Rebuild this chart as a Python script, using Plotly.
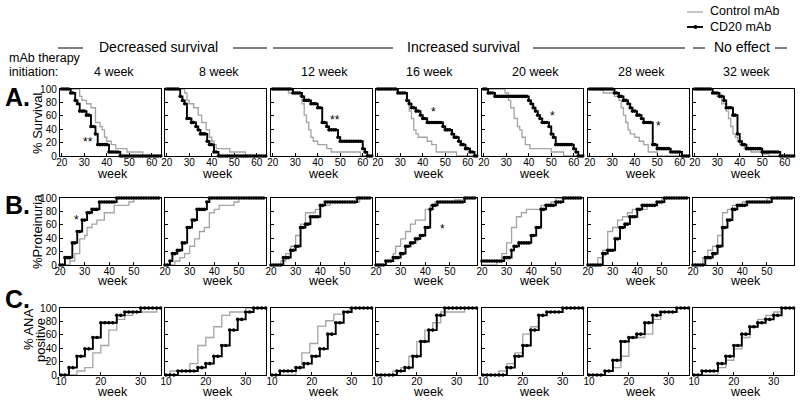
import plotly.graph_objects as go

FONT = "Liberation Sans, Arial, Helvetica, sans-serif"
W, H = 800, 400

# ---------------- data ----------------
weeks_a = list(range(20, 65))
weeks_b = list(range(20, 61))
weeks_c = list(range(10, 36))

groups = ["4 week", "8 week", "12 week", "16 week", "20 week", "28 week", "32 week"]

# Row A: % survival, CD20 mAb (weekly)
a1_cd20 = [100,100,100,100,94,94,83,78,67,67,67,61,61,44,44,33,17,17,17,17,17,6,6,6,6,6,
           0,0,0,0,0,0,0,0,0,0,0,0,0,0,0,0,0,0,0]
a2_cd20 = [100,100,100,100,100,100,89,83,78,56,56,50,50,44,39,33,33,33,22,17,17,6,6,
           0,0,0,0,0,0,0,0,0,0,0,0,0,0,0,0,0,0,0,0,0,0]
a3_cd20 = [100,100,100,100,100,100,100,100,100,94,94,94,94,89,83,83,83,78,78,78,72,72,50,50,44,
           39,39,39,39,28,22,22,22,22,22,22,22,22,22,22,11,6,0,0,0]
a4_cd20 = [100,100,100,100,100,100,100,100,100,94,94,94,94,83,78,72,72,67,67,61,56,56,
           50,50,50,50,50,50,50,44,39,39,39,33,28,28,22,17,17,11,11,6,6,0,0]
a5_cd20 = [100,100,94,94,94,89,89,89,89,89,89,89,89,89,89,89,89,89,89,89,83,78,72,67,61,56,
           50,50,50,44,33,28,17,17,17,17,17,17,17,17,11,6,0,0,0]
a6_cd20 = [100,100,100,100,100,100,100,100,100,100,100,94,94,89,89,83,83,78,72,67,67,61,61,56,
           50,50,50,50,17,17,11,11,11,11,11,11,6,6,6,6,6,0,0,0,0]
a7_cd20 = [100,100,100,100,100,100,100,100,94,94,94,89,89,83,72,72,72,61,61,33,22,17,17,
           11,11,11,11,11,11,11,6,6,6,6,6,6,6,6,0,0,0,0,0,0,0]

# Row A: control mAb (step change points)
a1_ctl_x = [19.25, 28, 29, 31, 33, 35, 37, 38, 39, 40, 42, 44, 49, 56, 64.1]
a1_ctl_y = [100, 89, 83, 78, 72, 50, 44, 39, 28, 22, 17, 11, 6, 0, 0]
a2_ctl_x = [19.25, 28, 29, 30, 32, 34, 35.5, 37.5, 39, 40, 41, 42, 48, 55, 64.1]
a2_ctl_y = [100, 94, 83, 78, 72, 61, 50, 39, 28, 22, 17, 11, 6, 0, 0]
a3_ctl_x = [19.25, 27, 32, 33, 34, 35, 36, 37, 38, 40, 44, 46, 59, 64.1]
a3_ctl_y = [100, 94, 89, 78, 61, 50, 39, 28, 22, 17, 11, 6, 0, 0]
a4_ctl_x = [19.25, 28.5, 33, 34, 35, 36, 37, 38, 42, 44, 46, 55, 64.1]
a4_ctl_y = [100, 94, 83, 67, 56, 39, 33, 28, 22, 17, 6, 0, 0]
a5_ctl_x = [19.25, 29.5, 31, 32, 33.5, 35, 36, 37, 38.5, 40.5, 50, 55.5, 64.1]
a5_ctl_y = [100, 94, 83, 72, 56, 44, 39, 28, 17, 11, 6, 0, 0]
a6_ctl_x = [19.25, 26, 31, 33, 34, 35, 36, 37, 38, 40, 42, 44, 46, 50, 64.1]
a6_ctl_y = [100, 94, 89, 83, 72, 61, 50, 39, 33, 28, 22, 17, 6, 0, 0]
a7_ctl_x = [19.25, 28, 30, 32, 34, 35, 36, 37, 38, 39, 40, 42, 45, 50, 53, 64.1]
a7_ctl_y = [100, 94, 89, 78, 67, 56, 44, 33, 28, 22, 17, 11, 6, 3, 0, 0]

# Row B: % proteinuria, CD20 mAb (weekly)
b1_cd20 = [0,0,11,11,11,33,33,50,50,67,67,78,78,83,83,83,94,94,94,94,94,94,94,
           100,100,100,100,100,100,100,100,100,100,100,100,100,100,100,100,100,100]
b2_cd20 = [0,0,6,17,17,22,22,33,33,56,56,67,67,83,83,83,83,94,
           100,100,100,100,100,100,100,100,100,100,100,100,100,100,100,100,100,100,100,100,100,100,100]
b3_cd20 = [0,0,0,0,0,11,11,11,22,22,28,28,56,56,61,61,72,72,72,72,89,89,
           94,94,94,94,94,94,94,94,94,94,94,94,94,100,100,100,100,100,100]
b4_cd20 = [0,0,0,0,6,6,6,11,11,11,17,17,28,28,33,33,39,39,44,44,56,56,83,89,89,
           94,94,94,94,94,94,94,94,94,94,94,100,100,100,100,100]
b5_cd20 = [6,6,6,6,6,6,6,6,6,11,11,11,22,28,28,33,33,33,33,33,44,44,56,56,83,83,
           89,89,89,89,94,94,94,100,100,100,100,100,100,100,100]
b6_cd20 = [0,0,0,0,0,0,17,17,22,22,22,39,39,56,56,61,61,72,72,72,83,83,
           89,89,89,89,89,89,94,94,94,100,100,100,100,100,100,100,100,100,100]
b7_cd20 = [0,0,0,0,0,11,11,11,17,17,28,28,56,56,67,67,83,83,89,89,89,89,
           94,94,94,94,94,94,94,94,94,94,100,100,100,100,100,100,100,100,100]

# Row B: control mAb (step change points)
b1_ctl_x = [20, 24, 26, 28, 30, 31, 33, 35, 38, 42, 48, 50, 61]
b1_ctl_y = [0, 6, 17, 39, 44, 56, 61, 67, 78, 89, 94, 100, 100]
b2_ctl_x = [20, 24, 26, 28, 30, 32, 34, 36, 38, 40, 42, 48, 50, 61]
b2_ctl_y = [0, 6, 11, 17, 28, 39, 50, 56, 78, 83, 89, 94, 100, 100]
b3_ctl_x = [20, 24, 26, 28, 30, 32, 34, 38, 40, 44, 56, 61]
b3_ctl_y = [0, 6, 17, 28, 44, 61, 78, 83, 89, 94, 100, 100]
b4_ctl_x = [20, 24, 27, 28, 30, 32, 34, 36, 40, 42, 44, 52, 56, 61]
b4_ctl_y = [0, 6, 17, 28, 39, 50, 61, 67, 83, 89, 94, 97, 100, 100]
b5_ctl_x = [20, 26, 28, 30, 32, 34, 36, 38, 44, 48, 50, 61]
b5_ctl_y = [0, 6, 17, 33, 56, 72, 78, 83, 89, 94, 100, 100]
b6_ctl_x = [20, 24, 26, 28, 30, 32, 34, 36, 38, 44, 48, 50, 61]
b6_ctl_y = [0, 11, 22, 50, 56, 67, 72, 78, 83, 89, 94, 100, 100]
b7_ctl_x = [20, 24, 26, 28, 30, 32, 34, 36, 40, 50, 61]
b7_ctl_y = [0, 11, 22, 28, 44, 78, 83, 89, 94, 100, 100]

# Row C: % ANA positive, CD20 mAb (weekly)
c1_cd20 = [0,0,11,11,28,28,39,39,56,56,78,78,78,78,89,89,94,94,94,94,100,100,100,100,100,100]
c2_cd20 = [0,0,0,6,6,6,6,6,11,11,17,17,28,28,44,44,67,67,83,83,94,94,100,100,100,100]
c3_cd20 = [0,0,6,6,6,6,11,11,17,17,28,28,39,39,61,61,78,78,94,94,100,100,100,100,100,100]
c4_cd20 = [0,0,0,0,0,6,6,11,11,28,28,50,50,67,67,89,89,100,100,100,100,100,100,100,100,100]
c5_cd20 = [0,0,0,0,0,0,11,11,28,28,44,44,67,67,89,89,94,94,94,94,100,100,100,100,100,100]
c6_cd20 = [0,0,0,0,6,6,22,22,50,50,56,56,61,61,78,78,89,89,94,94,94,94,100,100,100,100]
c7_cd20 = [0,0,6,6,6,6,17,17,28,28,44,44,61,61,72,72,78,78,83,83,89,89,100,100,100,100]

# Row C: control mAb (step change points)
c1_ctl_x = [9.75, 14, 16, 18, 20, 22, 24, 26, 28, 34, 35.1]
c1_ctl_y = [0, 6, 11, 33, 44, 67, 83, 89, 94, 100, 100]
c2_ctl_x = [9.75, 11, 16, 18, 20, 22, 24, 26, 30, 35.1]
c2_ctl_y = [0, 6, 17, 44, 56, 72, 89, 94, 100, 100]
c3_ctl_x = [9.75, 16, 17.5, 19.5, 21.5, 23.5, 25.5, 28, 29.5, 35.1]
c3_ctl_y = [0, 11, 33, 47, 73, 81, 91, 94, 100, 100]
c4_ctl_x = [9.75, 14, 16, 18, 20, 22, 24, 26, 32, 35.1]
c4_ctl_y = [0, 6, 11, 28, 50, 67, 78, 94, 100, 100]
c5_ctl_x = [9.75, 14, 16, 18, 20, 22, 24, 26, 30, 35.1]
c5_ctl_y = [0, 6, 17, 33, 61, 72, 89, 94, 100, 100]
c6_ctl_x = [9.75, 14, 16, 18, 20, 22, 24, 26, 28, 32, 35.1]
c6_ctl_y = [0, 6, 11, 28, 56, 56, 61, 83, 94, 100, 100]
c7_ctl_x = [9.75, 16, 18, 20, 22, 24, 26, 28, 30, 32, 35.1]
c7_ctl_y = [0, 11, 22, 39, 56, 72, 83, 89, 94, 100, 100]

y_ticks = [0, 20, 40, 60, 80, 100]
x_ticks_a = [20, 30, 40, 50, 60]
x_ticks_b = [20, 30, 40, 50]
x_ticks_c = [10, 20, 30]

# ---------------- layout helpers ----------------
def px(x):
    return x / W

def py(y):
    return 1 - y / H

lefts = [60, 165, 271, 376, 482, 588, 693]
PW = 101

rows = [
    dict(weeks=weeks_a,
         cd20=[a1_cd20, a2_cd20, a3_cd20, a4_cd20, a5_cd20, a6_cd20, a7_cd20],
         cx=[a1_ctl_x, a2_ctl_x, a3_ctl_x, a4_ctl_x, a5_ctl_x, a6_ctl_x, a7_ctl_x],
         cy=[a1_ctl_y, a2_ctl_y, a3_ctl_y, a4_ctl_y, a5_ctl_y, a6_ctl_y, a7_ctl_y],
         xr=[19.25, 64.1], xt=x_ticks_a, top=89, bot=156, week_y=174),
    dict(weeks=weeks_b,
         cd20=[b1_cd20, b2_cd20, b3_cd20, b4_cd20, b5_cd20, b6_cd20, b7_cd20],
         cx=[b1_ctl_x, b2_ctl_x, b3_ctl_x, b4_ctl_x, b5_ctl_x, b6_ctl_x, b7_ctl_x],
         cy=[b1_ctl_y, b2_ctl_y, b3_ctl_y, b4_ctl_y, b5_ctl_y, b6_ctl_y, b7_ctl_y],
         xr=[20, 61], xt=x_ticks_b, top=198, bot=265, week_y=281),
    dict(weeks=weeks_c,
         cd20=[c1_cd20, c2_cd20, c3_cd20, c4_cd20, c5_cd20, c6_cd20, c7_cd20],
         cx=[c1_ctl_x, c2_ctl_x, c3_ctl_x, c4_ctl_x, c5_ctl_x, c6_ctl_x, c7_ctl_x],
         cy=[c1_ctl_y, c2_ctl_y, c3_ctl_y, c4_ctl_y, c5_ctl_y, c6_ctl_y, c7_ctl_y],
         xr=[9.75, 35.1], xt=x_ticks_c, top=308, bot=375, week_y=392),
]

for row in rows:
    for s in row["cd20"]:
        assert len(s) == len(row["weeks"]), (len(s), len(row["weeks"]))

fig = go.Figure()
layout = {}
annotations = []
shapes = []

k = 0
for r, row in enumerate(rows):
    for c in range(7):
        k += 1
        xa = "x" if k == 1 else f"x{k}"
        ya = "y" if k == 1 else f"y{k}"
        fig.add_trace(go.Scatter(
            x=row["cx"][c], y=row["cy"][c], mode="lines",
            line=dict(color="#a4a4a4", width=1.3, shape="hv"),
            xaxis=xa, yaxis=ya, showlegend=False, hoverinfo="skip", cliponaxis=False))
        fig.add_trace(go.Scatter(
            x=row["weeks"], y=row["cd20"][c], mode="lines+markers",
            line=dict(color="black", width=1.9, shape="hv"),
            marker=dict(size=3.6, color="black"),
            xaxis=xa, yaxis=ya, showlegend=False, hoverinfo="skip", cliponaxis=False))
        axis_common = dict(showline=True, mirror=True, linecolor="black", linewidth=1.4,
                           showgrid=False, zeroline=False, ticks="inside", ticklen=3,
                           tickcolor="black", tickwidth=1,
                           tickfont=dict(family=FONT, size=10, color="black"))
        layout["xaxis" if k == 1 else f"xaxis{k}"] = dict(
            axis_common, domain=[px(lefts[c]), px(lefts[c] + PW)], anchor=ya,
            range=row["xr"], tickmode="array", tickvals=row["xt"], ticklabelstandoff=-3)
        layout["yaxis" if k == 1 else f"yaxis{k}"] = dict(
            axis_common, domain=[py(row["bot"]), py(row["top"])], anchor=xa,
            range=[0, 100], tickmode="array", tickvals=y_ticks,
            showticklabels=(c == 0), ticklabelstandoff=0)
        annotations.append(dict(text="week", x=px(lefts[c] + PW / 2 + 2), y=py(row["week_y"]),
                                xref="paper", yref="paper", showarrow=False,
                                font=dict(family=FONT, size=12.5, color="black"),
                                xanchor="center", yanchor="middle"))

def txt(s, x, y, size=13, xanchor="center", angle=0, bold=False):
    annotations.append(dict(text=(f"<b>{s}</b>" if bold else s), x=px(x), y=py(y),
                            xref="paper", yref="paper", showarrow=False, textangle=angle,
                            font=dict(family=FONT, size=size, color="black"),
                            xanchor=xanchor, yanchor="middle"))

def hline(x0, x1, y, color="black", width=1):
    shapes.append(dict(type="line", xref="paper", yref="paper", x0=px(x0), x1=px(x1),
                       y0=py(y), y1=py(y), line=dict(color=color, width=width)))

# header
txt("Decreased survival", 158, 47, size=14)
txt("Increased survival", 464, 47, size=14)
txt("No effect", 742, 47, size=14)
hline(58, 83, 48)
hline(233, 267, 48)
hline(273, 393, 48)
hline(533, 685, 48)
hline(693, 705, 48)
hline(775, 787, 48)

txt("mAb therapy", 7, 58, size=12.5, xanchor="left")
txt("initiation:", 7, 72, size=12.5, xanchor="left")
for c, g in enumerate(groups):
    txt(g, lefts[c] + PW / 2 + 3, 72, size=12.5)

# legend
hline(687, 703, 12, color="#a4a4a4", width=1.3)
txt("Control mAb", 708, 11, size=12.5, xanchor="left")
hline(687, 703, 27, color="black", width=1.9)
shapes.append(dict(type="circle", xref="paper", yref="paper", x0=px(693.5), x1=px(697.5),
                   y0=py(29), y1=py(25), fillcolor="black", line=dict(color="black", width=0)))
txt("CD20 mAb", 708, 27, size=12.5, xanchor="left")

# row labels
txt("A.", 17, 97, size=25, bold=True)
txt("B.", 17, 205, size=25, bold=True)
txt("C.", 17, 299, size=25, bold=True)
txt("% Survival", 37, 123, size=13, angle=-90)
txt("%Proteinuria", 38, 232, size=13, angle=-90)
txt("% ANA", 28, 329, size=13, angle=-90)
txt("positive", 40, 340, size=13, angle=-90)

# significance marks
txt("**", 88, 142, size=12)
txt("**", 335, 120, size=12)
txt("*", 433, 112, size=12)
txt("*", 552, 116, size=12)
txt("*", 658, 126, size=12)
txt("*", 76, 220, size=12)
txt("*", 442, 229, size=12)

fig.update_layout(**layout)
fig.update_layout(width=W, height=H, margin=dict(l=0, r=0, t=0, b=0), autosize=False,
                  template="none", paper_bgcolor="white", plot_bgcolor="white",
                  font=dict(family=FONT, color="black"),
                  annotations=annotations, shapes=shapes, showlegend=False)
fig.write_html("out.html", config={"displayModeBar": False},
               post_script="document.body.style.margin='0';document.body.style.overflow='hidden';")
